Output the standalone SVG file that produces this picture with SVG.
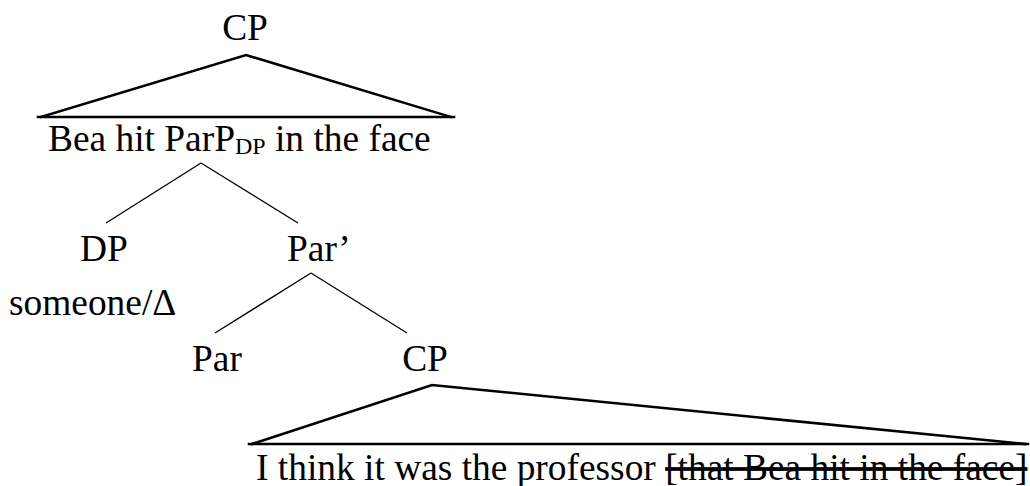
<svg xmlns="http://www.w3.org/2000/svg" width="1030" height="486" viewBox="0 0 1030 486">
<style>
  text { font-family: "Liberation Serif", "Times New Roman", serif; font-size: 37.4px; fill: #000; }
  .sub { font-size: 24px; }
  .thick { stroke: #000; stroke-width: 2.6; fill: none; stroke-linecap: square; }
  .thin { stroke: #000; stroke-width: 1.3; fill: none; }
  .strike { text-decoration: line-through; }
</style>
<rect width="1030" height="486" fill="#fff"/>
<g id="connectors">
  <path class="thick" d="M41,117 L246,55 L451,117"/>
  <line class="thick" x1="38" y1="117" x2="454" y2="117"/>
  <line class="thin" x1="201" y1="163" x2="106" y2="223"/>
  <line class="thin" x1="201" y1="163" x2="298" y2="223"/>
  <line class="thin" x1="311" y1="273" x2="215" y2="333"/>
  <line class="thin" x1="311" y1="273" x2="407" y2="333"/>
  <path class="thick" d="M252,444 L432,385 L1025,444"/>
  <line class="thick" x1="249" y1="444" x2="1028" y2="444"/>
</g>
<g id="node-cp-top"><text x="245" y="40" text-anchor="middle">CP</text></g>
<g id="node-clause-top"><text x="48" y="151">Bea hit ParP<tspan class="sub" dy="3">DP</tspan><tspan dy="-3"> in the face</tspan></text></g>
<g id="node-dp"><text x="104" y="261" text-anchor="middle">DP</text></g>
<g id="node-parbar"><text x="287" y="261">Par’</text></g>
<g id="node-someone"><text x="9" y="315">someone/Δ</text></g>
<g id="node-par"><text x="192" y="371">Par</text></g>
<g id="node-cp-low"><text x="425" y="371" text-anchor="middle">CP</text></g>
<g id="node-clause-low"><text x="256" y="480">I think it was the professor <tspan class="strike">[that Bea hit in the face]</tspan></text></g>
</svg>
